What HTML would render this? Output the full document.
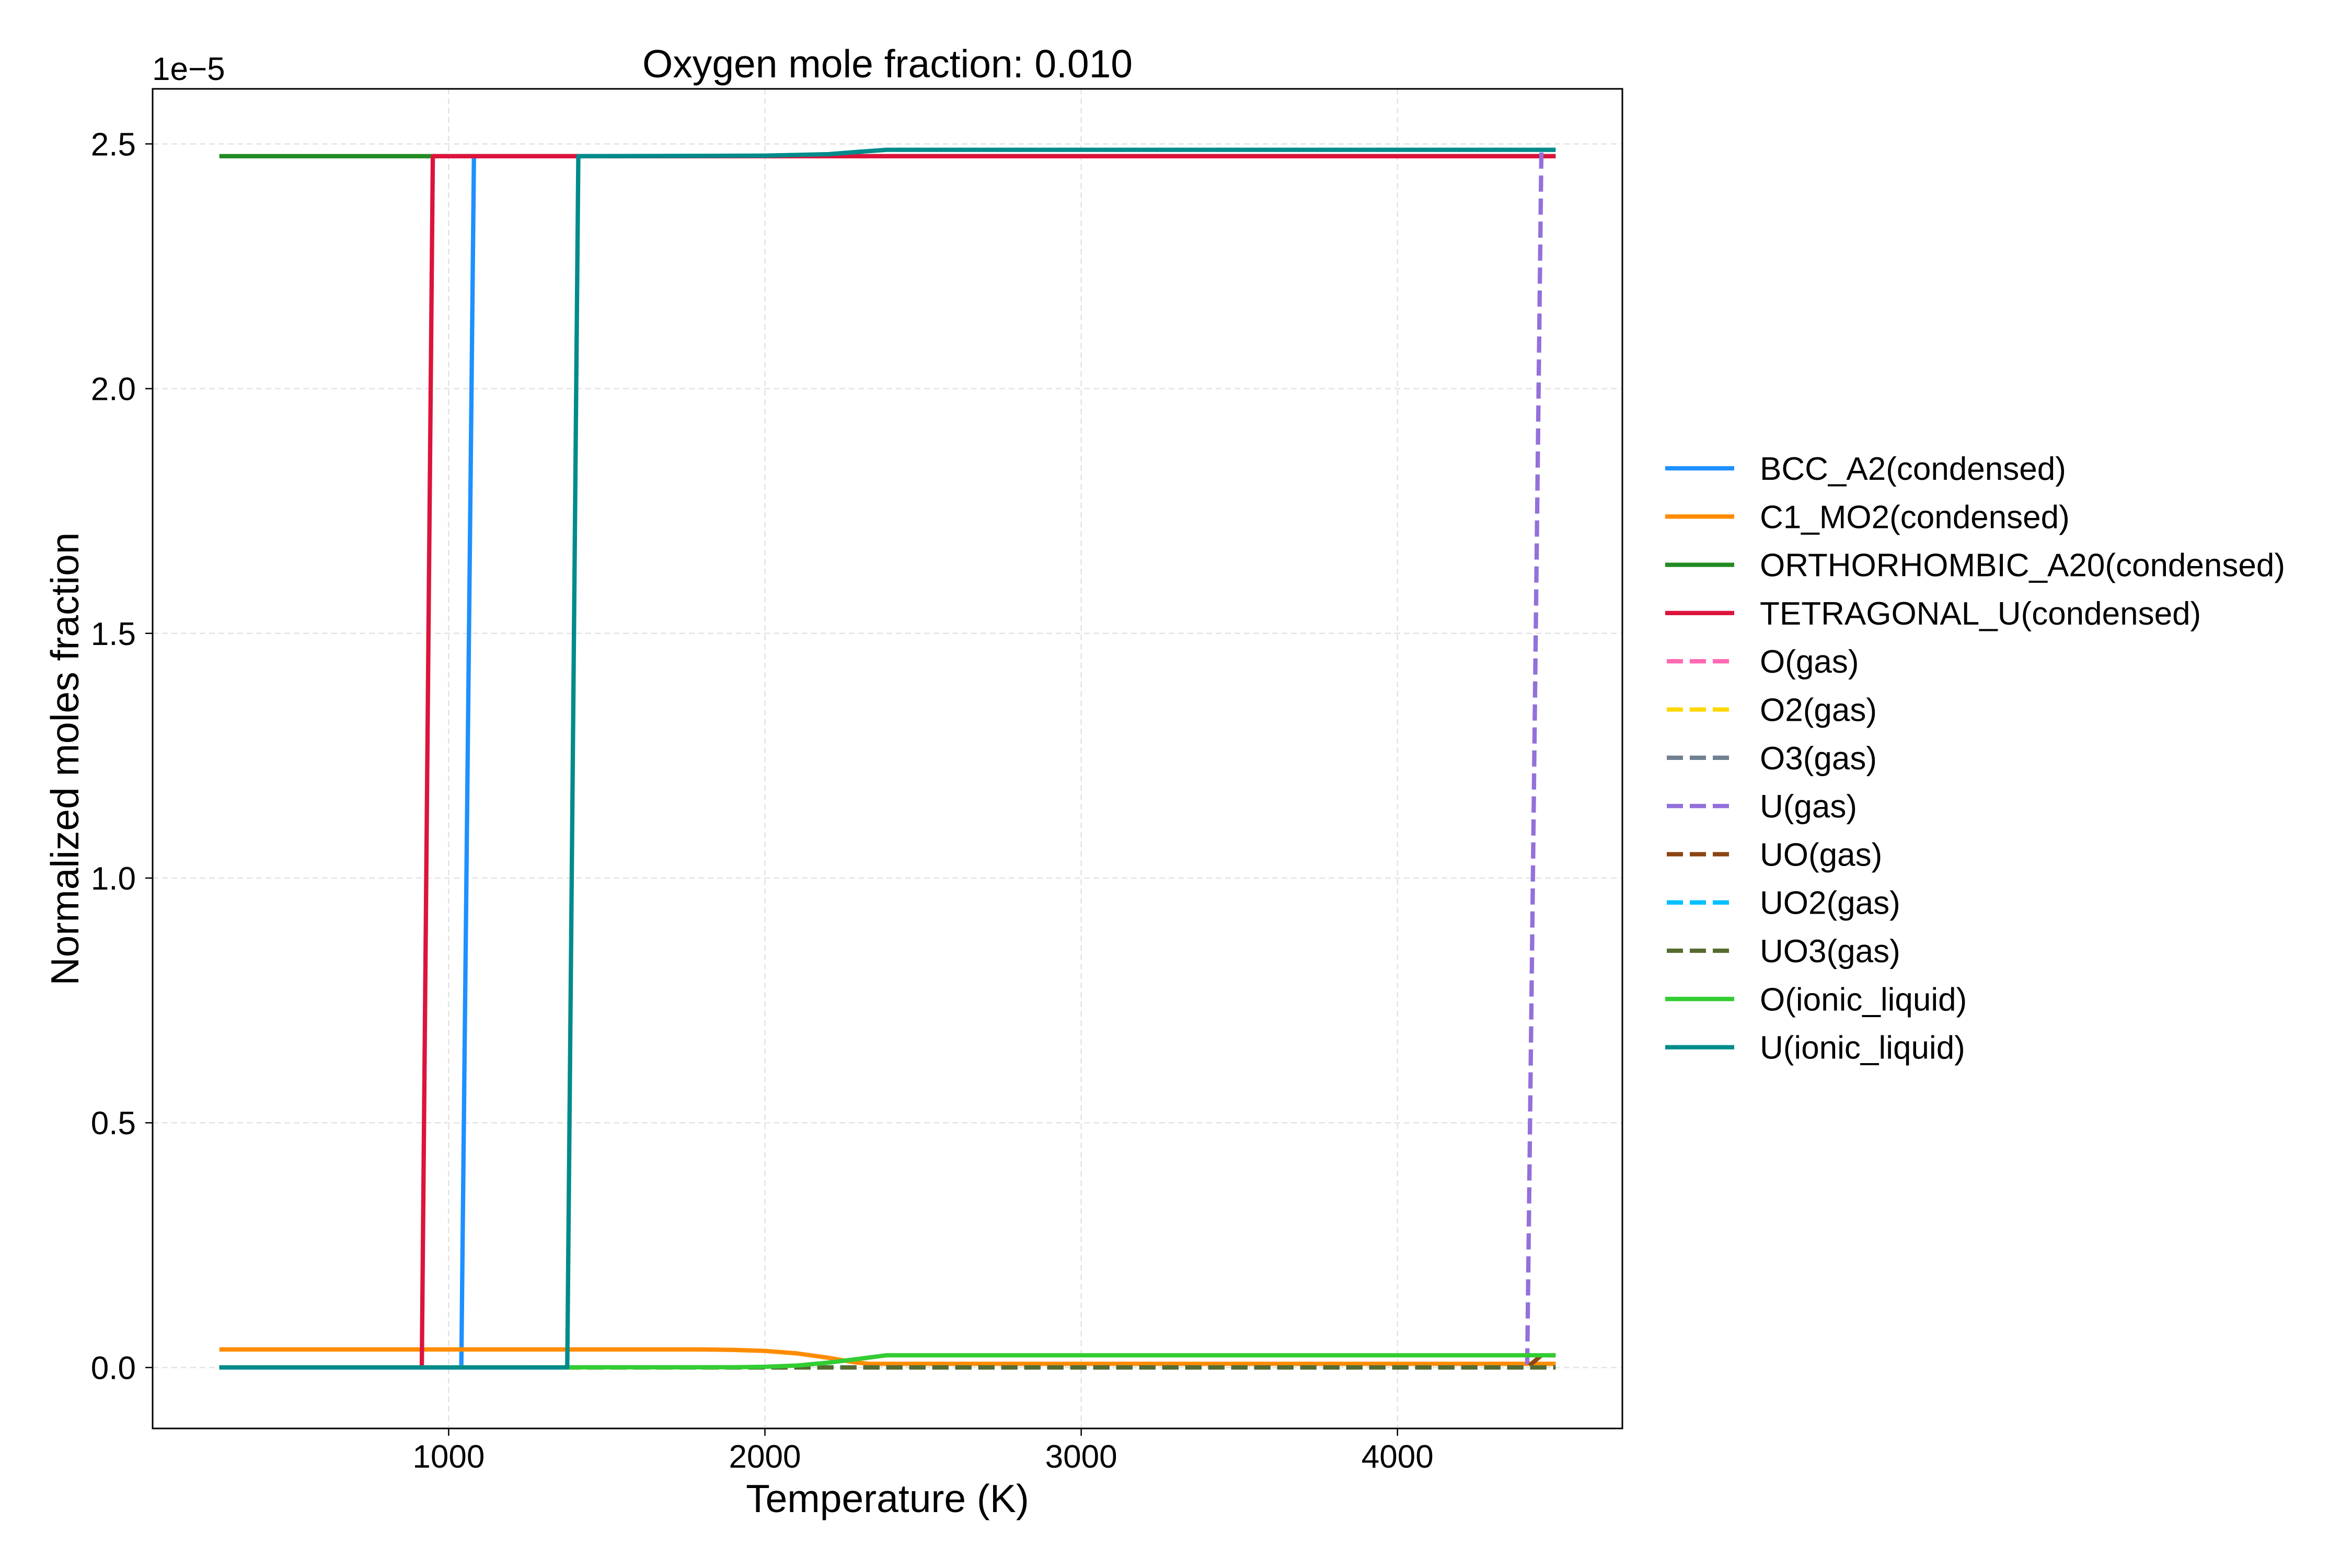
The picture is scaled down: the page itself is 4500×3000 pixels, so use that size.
<!DOCTYPE html>
<html><head><meta charset="utf-8"><style>
html,body{margin:0;padding:0;background:#fff;}
svg{display:block;font-family:"Liberation Sans",Arial,sans-serif;}
</style></head><body>
<svg id="chart" width="4500" height="3000" viewBox="0 0 4500 3000" xmlns="http://www.w3.org/2000/svg">
<rect x="0" y="0" width="4500" height="3000" fill="#fff"/>
<g id="grid"></g>
<g id="series"></g>
<rect x="292" y="170" width="2812" height="2563" fill="none" stroke="#000" stroke-width="3"/>
<g id="ticks"></g>
<text x="1698" y="148" font-size="75" text-anchor="middle">Oxygen mole fraction: 0.010</text>
<text x="291" y="153" font-size="62">1e−5</text>
<text x="1698" y="2893" font-size="75" text-anchor="middle">Temperature (K)</text>
<text x="0" y="0" font-size="75" text-anchor="middle" transform="translate(150,1452) rotate(-90)">Normalized moles fraction</text>
<g id="legend"></g>
</svg>
<script>
const xTicks=[1000,2000,3000,4000];
const yTicks=[0.0,0.5,1.0,1.5,2.0,2.5];
const yTickLabels=["0.0","0.5","1.0","1.5","2.0","2.5"];
const names=["BCC_A2(condensed)","C1_MO2(condensed)","ORTHORHOMBIC_A20(condensed)","TETRAGONAL_U(condensed)","O(gas)","O2(gas)","O3(gas)","U(gas)","UO(gas)","UO2(gas)","UO3(gas)","O(ionic_liquid)","U(ionic_liquid)"];
const colors=["#1e90ff","#ff8c00","#228b22","#dc143c","#ff69b4","#ffd700","#708090","#9370db","#8b4513","#00bfff","#556b2f","#32cd32","#008b8b"];
const dashed=[false,false,false,false,true,true,true,true,true,true,true,false,false];
const T_bcc=[275,1040,1080,4500], v_bcc=[0,0,2.475,2.475];
const T_c1=[275,1800,1900,2000,2100,2200,2280,2330,4500], v_c1=[0.037,0.037,0.036,0.034,0.029,0.02,0.011,0.0075,0.0075];
const T_ortho=[275,950,4500], v_ortho=[2.475,2.475,2.475];
const T_tetra=[275,915,950,4500], v_tetra=[0,0,2.475,2.475];
const T_og=[275,4500], v_og=[0,0];
const T_o2g=[275,4500], v_o2g=[0,0];
const T_o3g=[275,4500], v_o3g=[0,0];
const T_ug=[275,4410,4455,4500], v_ug=[0,0,2.488,2.488];
const T_uog=[275,4410,4455,4500], v_uog=[0,0,0.025,0.025];
const T_uo2g=[275,4500], v_uo2g=[0,0];
const T_uo3g=[275,4500], v_uo3g=[0,0];
const T_oil=[275,1900,2000,2100,2200,2300,2385,4500], v_oil=[0,0.0005,0.0015,0.004,0.01,0.018,0.025,0.025];
const T_uil=[275,1375,1410,2000,2200,2300,2385,4500], v_uil=[0,0,2.475,2.476,2.479,2.484,2.488,2.488];
const seriesT=[T_bcc,T_c1,T_ortho,T_tetra,T_og,T_o2g,T_o3g,T_ug,T_uog,T_uo2g,T_uo3g,T_oil,T_uil];
const seriesV=[v_bcc,v_c1,v_ortho,v_tetra,v_og,v_o2g,v_o3g,v_ug,v_uog,v_uo2g,v_uo3g,v_oil,v_uil];
const slugs=["bcc-a2","c1-mo2","orthorhombic-a20","tetragonal-u","o-gas","o2-gas","o3-gas","u-gas","uo-gas","uo2-gas","uo3-gas","o-ionic-liquid","u-ionic-liquid"];

const NS="http://www.w3.org/2000/svg";
const X0=292,X1=3104,Y0=170,Y1=2733;
const xmin=64, xmax=4711, ymin=-0.1245, ymax=2.6125;
function sx(t){return X0+(t-xmin)/(xmax-xmin)*(X1-X0);}
function sy(v){return Y1-(v-ymin)/(ymax-ymin)*(Y1-Y0);}
function mk(tag,attrs,parent){const e=document.createElementNS(NS,tag);for(const k in attrs)e.setAttribute(k,attrs[k]);parent.appendChild(e);return e;}

const grid=document.getElementById('grid');
const ticks=document.getElementById('ticks');
xTicks.forEach(t=>{
  const g=mk('line',{x1:sx(t),x2:sx(t),y1:Y0,y2:Y1,stroke:'#e3e3e3','stroke-width':2.5,'stroke-dasharray':'11,7'},grid);
  
  
  const tm=mk('line',{x1:sx(t),x2:sx(t),y1:Y1,y2:Y1+14,stroke:'#000','stroke-width':2.5},ticks);
  
  
  const tl=mk('text',{x:sx(t),y:2808,'font-size':62,'text-anchor':'middle'},ticks);
  tl.textContent=String(t);
  
  
});
yTicks.forEach((v,i)=>{
  const g=mk('line',{x1:X0,x2:X1,y1:sy(v),y2:sy(v),stroke:'#e3e3e3','stroke-width':2.5,'stroke-dasharray':'11,7'},grid);
  
  
  const tm=mk('line',{x1:X0-14,x2:X0,y1:sy(v),y2:sy(v),stroke:'#000','stroke-width':2.5},ticks);
  
  
  const tl=mk('text',{x:260,y:sy(v)+22,'font-size':62,'text-anchor':'end'},ticks);
  tl.textContent=yTickLabels[i];
  
  
});

const sg=document.getElementById('series');
seriesT.forEach((T,i)=>{
  const V=seriesV[i];
  const pts=T.map((t,j)=>sx(t).toFixed(1)+','+sy(V[j]).toFixed(1)).join(' ');
  const attrs={points:pts,fill:'none',stroke:colors[i],'stroke-width':8.3,'stroke-linejoin':'round'};
  if(dashed[i])attrs['stroke-dasharray']='31,13';
  const p=mk('polyline',attrs,sg);
  
  
});

const lg=document.getElementById('legend');
names.forEach((n,i)=>{
  const y=896+i*92.3;
  const a={x1:3186,x2:3318,y1:y,y2:y,stroke:colors[i],'stroke-width':8.3};
  if(dashed[i]){a['stroke-dasharray']='31,13';a.x1=3189;}
  const l=mk('line',a,lg);
  
  
  const t=mk('text',{x:3367,y:y+22,'font-size':62},lg);
  t.textContent=n;
  
  
});
</script>
</body></html>
